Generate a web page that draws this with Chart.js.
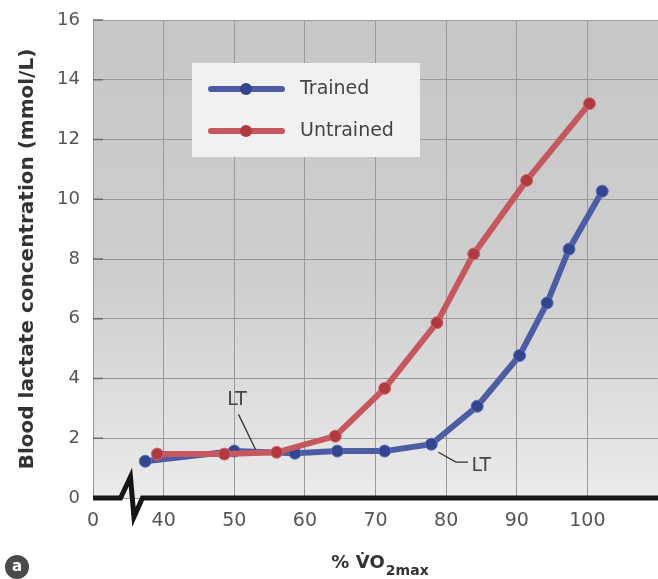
<!DOCTYPE html>
<html>
<head>
<meta charset="utf-8">
<script src="https://cdn.jsdelivr.net/npm/chart.js@4.4.1/dist/chart.umd.min.js"></script>
<style>
  html, body { margin: 0; padding: 0; background: #fff; overflow: hidden; }
  #wrap { width: 658px; height: 579px; position: relative; }
  canvas { display: block; }
</style>
</head>
<body>
<div id="wrap"><canvas id="lactate"></canvas></div>
<script>
// values (% VO2max vs blood lactate, mmol/L)
const trainedX = [37.4, 50, 58.6, 64.6, 71.3, 77.9, 84.4, 90.4, 94.3, 97.4, 102.1];
const trainedY = [1.23, 1.57, 1.5, 1.57, 1.57, 1.8, 3.07, 4.77, 6.53, 8.33, 10.27];
const untrainedX = [39.1, 48.6, 56, 64.3, 71.3, 78.7, 83.9, 91.4, 100.3];
const untrainedY = [1.47, 1.47, 1.53, 2.07, 3.67, 5.87, 8.17, 10.63, 13.2];
const xTicks = [30, 40, 50, 60, 70, 80, 90, 100];   // 30 sits at the axis break, shown as "0"
const yTicks = [0, 2, 4, 6, 8, 10, 12, 14, 16];

const FONT = "'DejaVu Sans', sans-serif";
const BLUE = '#4d5da3', BLUE_DK = '#34448f';
const RED = '#c5585e', RED_DK = '#b03a41';

function toPoints(xs, ys) {
  return xs.map((x, i) => ({ x: x, y: ys[i] }));
}

// gray panel behind the plot
const panelBg = {
  id: 'panelBg',
  beforeDraw(chart) {
    const { ctx, chartArea: a } = chart;
    const g = ctx.createLinearGradient(0, a.top, 0, a.bottom);
    g.addColorStop(0, '#c7c7c7');
    g.addColorStop(0.55, '#cecece');
    g.addColorStop(1, '#ebebeb');
    ctx.save();
    ctx.fillStyle = g;
    ctx.fillRect(a.left, a.top, a.right - a.left, a.bottom - a.top);
    ctx.restore();
  }
};

// short tick marks inside, thick x axis with the break, LT notes, legend, x title
const extras = {
  id: 'extras',
  afterDraw(chart) {
    const { ctx, chartArea: a } = chart;
    const xs = chart.scales.x, ys = chart.scales.y;
    ctx.save();

    ctx.strokeStyle = '#6a6a6a';
    ctx.lineWidth = 1.5;
    yTicks.forEach(v => {
      const py = ys.getPixelForValue(v);
      ctx.beginPath();
      ctx.moveTo(a.left, py);
      ctx.lineTo(a.left + 10, py);
      ctx.stroke();
    });

    // x axis line with the zigzag break
    const y0 = ys.getPixelForValue(0);
    ctx.strokeStyle = '#151515';
    ctx.lineWidth = 5;
    ctx.lineJoin = 'miter';
    ctx.beginPath();
    ctx.moveTo(a.left, y0);
    ctx.lineTo(xs.getPixelForValue(33.9), y0);
    ctx.lineTo(xs.getPixelForValue(35.3), y0 - 21);
    ctx.lineTo(xs.getPixelForValue(35.8), y0 + 19);
    ctx.lineTo(xs.getPixelForValue(37.0), y0);
    ctx.lineTo(a.right, y0);
    ctx.stroke();

    // LT notes
    ctx.strokeStyle = '#333';
    ctx.lineWidth = 1.3;
    ctx.beginPath();
    ctx.moveTo(xs.getPixelForValue(50.6), ys.getPixelForValue(2.8));
    ctx.lineTo(xs.getPixelForValue(53.0), ys.getPixelForValue(1.63));
    ctx.stroke();
    ctx.beginPath();
    ctx.moveTo(xs.getPixelForValue(78.9), ys.getPixelForValue(1.53));
    ctx.lineTo(xs.getPixelForValue(81.4), ys.getPixelForValue(1.2));
    ctx.lineTo(xs.getPixelForValue(83.1), ys.getPixelForValue(1.2));
    ctx.stroke();
    ctx.fillStyle = '#444';
    ctx.font = '19px ' + FONT;
    ctx.textBaseline = 'middle';
    ctx.textAlign = 'center';
    ctx.fillText('LT', xs.getPixelForValue(50.4), ys.getPixelForValue(3.28));
    ctx.textAlign = 'left';
    ctx.fillText('LT', xs.getPixelForValue(83.6), ys.getPixelForValue(1.07));

    // legend box
    const lx = a.left + 99, ly = a.top + 43;
    ctx.fillStyle = '#f1f1f1';
    ctx.fillRect(lx, ly, 228, 94);
    const entries = [
      { label: 'Trained', c: BLUE, d: BLUE_DK },
      { label: 'Untrained', c: RED, d: RED_DK }
    ];
    entries.forEach((e, i) => {
      const cy = ly + 26 + i * 42;
      ctx.strokeStyle = e.c;
      ctx.lineWidth = 6;
      ctx.lineCap = 'round';
      ctx.beginPath();
      ctx.moveTo(lx + 19, cy);
      ctx.lineTo(lx + 90, cy);
      ctx.stroke();
      ctx.fillStyle = e.d;
      ctx.beginPath();
      ctx.arc(lx + 54, cy, 6, 0, Math.PI * 2);
      ctx.fill();
      ctx.fillStyle = '#444';
      ctx.font = '19px ' + FONT;
      ctx.textAlign = 'left';
      ctx.fillText(e.label, lx + 108, cy);
    });

    // x title: % VO2max with subscript
    const main = '% V\u0307O', sub = '2max';
    ctx.fillStyle = '#333';
    ctx.textBaseline = 'alphabetic';
    ctx.font = 'bold 18px ' + FONT;
    const w1 = ctx.measureText(main).width;
    ctx.font = 'bold 14px ' + FONT;
    const w2 = ctx.measureText(sub).width;
    const sx = (a.left + a.right) / 2 - (w1 + w2) / 2 + 4;
    ctx.font = 'bold 18px ' + FONT;
    ctx.fillText(main, sx, 568);
    ctx.font = 'bold 14px ' + FONT;
    ctx.fillText(sub, sx + w1 + 1, 575);

    // panel letter
    ctx.fillStyle = '#4a4a4a';
    ctx.beginPath();
    ctx.arc(17, 567, 12, 0, Math.PI * 2);
    ctx.fill();
    ctx.fillStyle = '#fff';
    ctx.font = 'bold 15px ' + FONT;
    ctx.textAlign = 'center';
    ctx.textBaseline = 'middle';
    ctx.fillText('a', 17, 567);

    ctx.restore();
  }
};

const ctx = document.getElementById('lactate').getContext('2d');

new Chart(ctx, {
  type: 'scatter',
  data: {
    datasets: [
      {
        label: 'Trained',
        data: toPoints(trainedX, trainedY),
        showLine: true,
        borderColor: BLUE,
        borderWidth: 6,
        pointRadius: 6,
        pointBackgroundColor: BLUE_DK,
        pointBorderColor: '#5d6fbf',
        pointBorderWidth: 1,
        order: 2
      },
      {
        label: 'Untrained',
        data: toPoints(untrainedX, untrainedY),
        showLine: true,
        borderColor: RED,
        borderWidth: 6,
        pointRadius: 6,
        pointBackgroundColor: RED_DK,
        pointBorderColor: '#d46a70',
        pointBorderWidth: 1,
        order: 1
      }
    ]
  },
  options: {
    responsive: true,
    maintainAspectRatio: false,
    animation: false,
    layout: { autoPadding: false, padding: { top: 20, right: 0, left: 0, bottom: 0 } },
    plugins: {
      legend: { display: false },
      tooltip: { enabled: false }
    },
    scales: {
      x: {
        type: 'linear',
        min: 30,
        max: 110,
        afterBuildTicks: s => { s.ticks = xTicks.map(v => ({ value: v })); },
        afterFit: s => { s.height = 81; s.paddingLeft = 0; s.paddingRight = 0; },
        grid: { color: '#999', lineWidth: 1, drawTicks: false },
        border: { display: false },
        ticks: {
          padding: 12,
          color: '#555',
          font: { family: FONT, size: 19 },
          callback: v => (v === 30 ? '0' : String(v))
        }
      },
      y: {
        min: 0,
        max: 16,
        afterBuildTicks: s => { s.ticks = yTicks.map(v => ({ value: v })); },
        afterFit: s => { s.width = 93; s.paddingTop = 0; s.paddingBottom = 0; },
        grid: { color: '#999', lineWidth: 1, drawTicks: false },
        border: { display: false },
        ticks: {
          padding: 13,
          color: '#555',
          font: { family: FONT, size: 18 }
        },
        title: {
          display: true,
          text: 'Blood lactate concentration (mmol/L)',
          color: '#333',
          font: { family: FONT, size: 20, weight: 'bold' },
          padding: { top: 16, bottom: 0 }
        }
      }
    }
  },
  plugins: [panelBg, extras]
});
</script>
</body>
</html>
